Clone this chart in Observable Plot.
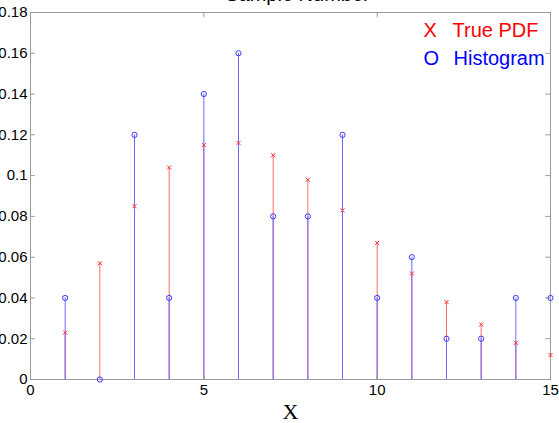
<!DOCTYPE html>
<html>
<head>
<meta charset="utf-8">
<script src="https://cdn.jsdelivr.net/npm/d3@7"></script>
<script src="https://cdn.jsdelivr.net/npm/@observablehq/plot@0.6"></script>
<style>
  html, body { margin: 0; padding: 0; background: white; overflow: hidden; }
  svg { overflow: visible; }
</style>
</head>
<body>
<div id="chart"></div>
<script>
const xs = [1, 2, 3, 4, 5, 6, 7, 8, 9, 10, 11, 12, 13, 14, 15];
const truePdf = [0.023, 0.057, 0.085, 0.104, 0.115, 0.116, 0.110, 0.098, 0.083, 0.067, 0.052, 0.038, 0.027, 0.018, 0.012];
const histogram = [0.04, 0, 0.12, 0.04, 0.14, 0.16, 0.08, 0.08, 0.12, 0.04, 0.06, 0.02, 0.02, 0.04, 0.04];
const xTicks = [0, 5, 10, 15];
const yTicks = [0, 0.02, 0.04, 0.06, 0.08, 0.1, 0.12, 0.14, 0.16, 0.18];
const yTickLabels = ["0", "0.02", "0.04", "0.06", "0.08", "0.1", "0.12", "0.14", "0.16", "0.18"];
const legendSymbols = ["X", "O"];
const seriesNames = ["True PDF", "Histogram"];
const titleText = "Sample Number";
const xLabel = "X";

const pdfData = xs.map((x, i) => ({x, y: truePdf[i]}));
const histData = xs.map((x, i) => ({x, y: histogram[i]}));
const axisGray = "#9a9a9a";

const chart = Plot.plot({
  width: 559,
  height: 423,
  marginLeft: 30,
  marginRight: 9,
  marginTop: 12,
  marginBottom: 44,
  x: {domain: [0, 15], axis: null},
  y: {domain: [0, 0.18], axis: null},
  style: {fontFamily: "'Liberation Sans', Arial, sans-serif", background: "white", overflow: "visible"},
  marks: [
    // stems
    Plot.ruleX(pdfData, {x: "x", y1: 0, y2: "y", stroke: "#ff6a6a", strokeWidth: 1}),
    Plot.ruleX(histData, {x: "x", y1: 0, y2: "y", stroke: "#6a6aff", strokeWidth: 1}),
    // frame and inward ticks
    Plot.frame({stroke: axisGray}),
    Plot.ruleX(xTicks, {x: d => d, y1: 0, y2: 0.0025, stroke: axisGray}),
    Plot.ruleX(xTicks, {x: d => d, y1: 0.18, y2: 0.1775, stroke: axisGray}),
    Plot.ruleY(yTicks, {y: d => d, x1: 0, x2: 0.14, stroke: axisGray}),
    Plot.ruleY(yTicks, {y: d => d, x1: 15, x2: 14.86, stroke: axisGray}),
    // markers
    Plot.dot(pdfData, {x: "x", y: "y", symbol: "times", r: 2, stroke: "#ff3030", strokeWidth: 1}),
    Plot.dot(histData, {x: "x", y: "y", symbol: "circle", r: 2.6, stroke: "#3a3aff", strokeWidth: 1}),
    // axes labels
    Plot.axisY(yTicks, {anchor: "left", tickSize: 0, tickPadding: 3, fontSize: 15,
      tickFormat: (d, i) => yTickLabels[i], label: null}),
    Plot.axisX(xTicks, {anchor: "bottom", tickSize: 0, tickPadding: 5, fontSize: 15,
      tickFormat: d => String(d), label: null}),
    Plot.text([xLabel], {text: d => d, frameAnchor: "bottom", lineAnchor: "bottom", dy: 39,
      fontFamily: "'Liberation Serif', 'Times New Roman', serif", fontSize: 22, fill: "black"}),
    Plot.text([titleText], {text: d => d, frameAnchor: "top", lineAnchor: "bottom", dy: -12, dx: 7,
      fontSize: 20, fill: "black"}),
    // legend
    Plot.text([legendSymbols[0]], {text: d => d, frameAnchor: "top-right", textAnchor: "start", lineAnchor: "bottom",
      dx: -127, dy: 24, fontSize: 20, fill: "#ff0000"}),
    Plot.text([seriesNames[0]], {text: d => d, frameAnchor: "top-right", textAnchor: "start", lineAnchor: "bottom",
      dx: -98, dy: 24, fontSize: 20, fill: "#ff0000"}),
    Plot.text([legendSymbols[1]], {text: d => d, frameAnchor: "top-right", textAnchor: "start", lineAnchor: "bottom",
      dx: -127, dy: 52, fontSize: 20, fill: "#0000ff"}),
    Plot.text([seriesNames[1]], {text: d => d, frameAnchor: "top-right", textAnchor: "start", lineAnchor: "bottom",
      dx: -97, dy: 52, fontSize: 20, fill: "#0000ff"})
  ]
});
document.getElementById("chart").appendChild(chart);
</script>
</body>
</html>
